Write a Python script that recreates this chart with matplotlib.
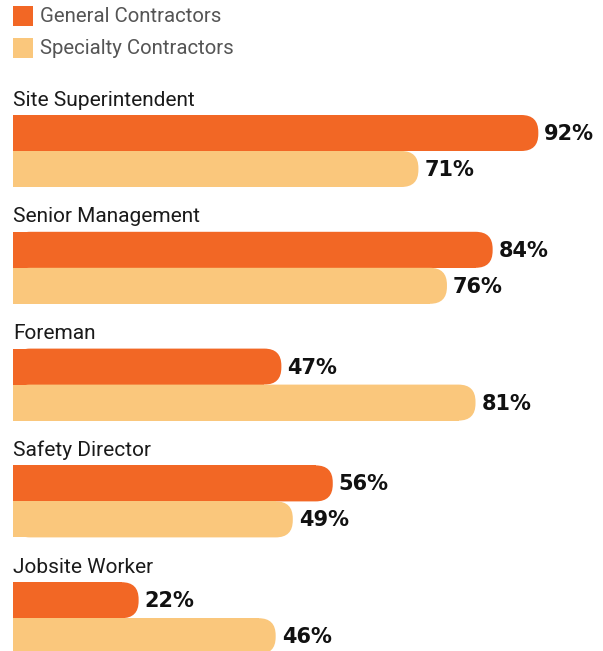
import matplotlib
matplotlib.use("Agg")
import matplotlib.pyplot as plt
from matplotlib.patches import Rectangle, FancyBboxPatch

# survey results (% of respondents)
roles = ["Site Superintendent", "Senior Management", "Foreman",
         "Safety Director", "Jobsite Worker"]
general = [92, 84, 47, 56, 22]
specialty = [71, 76, 81, 49, 46]
series_names = ["General Contractors", "Specialty Contractors"]

ORANGE = "#F26725"
LIGHT = "#FAC77C"
label_font = ["Roboto", "DejaVu Sans"]

W, H = 603, 651
PX = 5.71            # pixels per percentage point
X0 = 13              # left edge of bars in pixels

fig = plt.figure(figsize=(W / 100, H / 100), dpi=100)
ax = fig.add_axes([0, 0, 1, 1])
ax.set_xlim(-X0 / PX, (W - X0) / PX)
ax.set_ylim(H / PX, 0)
ax.axis("off")

bar_h = 36 / PX
r = 17 / PX
step = 116.8 / PX
first_top = 115 / PX


def rounded_bar(y_top, value, color):
    # square on the left, rounded on the right
    ax.add_patch(Rectangle((0, y_top), value - r, bar_h, color=color, lw=0))
    ax.add_patch(FancyBboxPatch((0, y_top), value, bar_h,
                                boxstyle=f"round,pad=0,rounding_size={r}",
                                color=color, lw=0))
    ax.text(value + 6 / PX, y_top + bar_h / 2 + 1 / PX, f"{value}%",
            ha="left", va="center", fontsize=15, fontweight="bold",
            color="#111111", family="DejaVu Sans")


for i, role in enumerate(roles):
    top = first_top + i * step
    ax.text(0, top - 9.5 / PX, role, ha="left", va="baseline",
            fontsize=15, color="#1a1a1a", family=label_font)
    rounded_bar(top, general[i], ORANGE)
    rounded_bar(top + bar_h, specialty[i], LIGHT)

# legend
for k, (name, col) in enumerate(zip(series_names, [ORANGE, LIGHT])):
    y = (6 + k * 32) / PX
    ax.add_patch(Rectangle((0, y), 20 / PX, 20 / PX, color=col, lw=0))
    ax.text(27 / PX, y + 11 / PX, name, ha="left", va="center",
            fontsize=14.7, color="#555555", family=label_font)

fig.savefig("out.png", dpi=100)
